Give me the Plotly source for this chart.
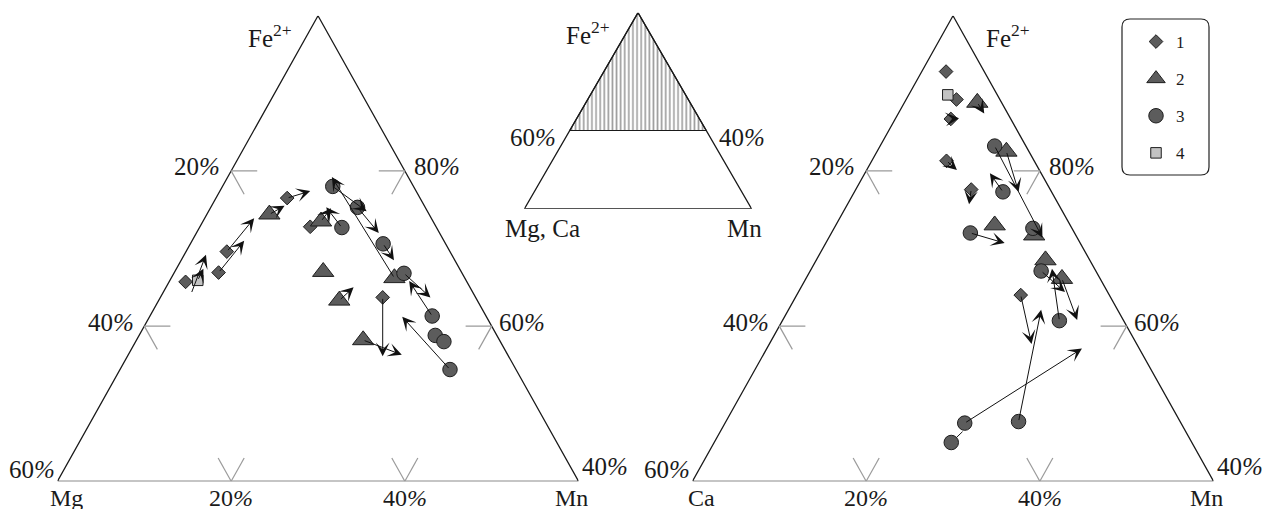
import numpy as np
import plotly.graph_objects as go

W, H = 1267, 512

# ---------------- data (atomic %, Fe2+ and Mn; third component = 100 - Fe - Mn) -------------
# Left diagram: Fe2+ - Mg - Mn
L_FE_1 = [65.7, 66.9, 69.6, 76.5, 72.8, 63.7]
L_MN_1 = [1.9, 5.1, 4.7, 8.2, 12.7, 25.6]
L_FE_2 = [74.4, 73.5, 67.0, 63.3, 58.2, 66.2]
L_MN_2 = [7.2, 13.6, 17.1, 20.8, 26.1, 25.7]
L_FE_3 = [78.0, 75.3, 72.7, 70.6, 66.8, 61.3, 58.8, 58.0, 54.4]
L_MN_3 = [12.7, 16.9, 16.4, 22.2, 26.5, 32.5, 34.1, 35.5, 38.0]
L_FE_4 = [65.9]
L_MN_4 = [3.2]
# arrows (tail -> head)
L_ARR_FE0 = [64.2, 65.9, 66.9, 69.6, 74.4, 76.5, 66.2, 78.0, 75.3, 72.7, 73.5, 70.6, 66.8, 61.3, 63.3, 63.7, 58.2, 54.4]
L_ARR_MN0 = [3.3, 3.2, 5.1, 4.7, 7.2, 8.2, 25.7, 12.7, 16.9, 16.4, 13.6, 22.2, 26.5, 32.5, 20.8, 25.6, 26.1, 38.0]
L_ARR_FE1 = [69.2, 67.4, 71.0, 73.9, 75.5, 77.4, 79.2, 74.8, 72.0, 75.3, 75.2, 68.5, 63.7, 65.8, 65.0, 56.1, 56.3, 61.2]
L_ARR_MN1 = [2.5, 3.1, 6.0, 5.7, 8.4, 10.4, 12.0, 18.2, 21.0, 13.3, 13.9, 24.5, 31.1, 27.6, 21.6, 29.4, 31.5, 29.1]

# Right diagram: Fe2+ - Ca - Mn
R_FE_1 = [92.8, 89.2, 86.7, 81.3, 77.6, 64.0]
R_MN_1 = [2.8, 5.8, 6.4, 8.6, 13.3, 25.8]
R_FE_2 = [88.8, 82.5, 73.0, 71.7, 68.5, 66.1]
R_MN_2 = [8.4, 14.9, 18.3, 23.5, 26.4, 29.5]
R_FE_3 = [83.2, 77.3, 72.0, 72.6, 67.1, 60.7, 47.5, 47.7, 45.0]
R_MN_3 = [13.2, 17.1, 16.0, 22.9, 26.6, 31.9, 27.6, 33.7, 27.3]
R_FE_4 = [89.8]
R_MN_4 = [4.5]
R_ARR_FE0 = [88.8, 86.7, 81.3, 77.6, 83.2, 82.5, 77.3, 72.0, 60.7, 66.1, 67.1, 64.0, 47.7, 47.5]
R_ARR_MN0 = [8.4, 6.4, 8.6, 13.3, 13.2, 14.9, 17.1, 16.0, 31.9, 29.5, 26.6, 25.8, 33.7, 27.6]
R_ARR_FE1 = [87.4, 86.8, 80.1, 75.7, 71.4, 77.3, 79.7, 70.7, 67.4, 60.8, 64.4, 57.7, 62.1, 57.1]
R_ARR_MN1 = [9.9, 7.3, 10.4, 14.0, 24.6, 18.9, 14.4, 20.6, 27.7, 33.9, 30.7, 30.2, 29.1, 36.3]
# plain connector (no head)
R_LINK_FE = [45.0, 46.4]
R_LINK_MN = [27.3, 27.9]

# axis scale ticks
SIDE_TICKS = [20, 40]          # Mg (Ca) on left side, Mn on the base
FE_TICKS = [80, 60]            # Fe on right side
FE_MIN = 40

SERIES_NAMES = ["1", "2", "3", "4"]
SYMBOLS = ["diamond", "triangle-up", "circle", "square"]
SIZES = [10.5, 18.5, 14.5, 10.5]
FILLS = ["#5c5c5c", "#5c5c5c", "#5c5c5c", "#c3c3c3"]

FONT = "Liberation Serif, Times New Roman, serif"
TXT = "#1a1a1a"


def txy(fe, mn, fe_min=FE_MIN):
    fe = np.asarray(fe, float)
    mn = np.asarray(mn, float)
    y = fe - fe_min
    return mn + y / 2.0, y


fig = go.Figure()
annotations = []


def dom_x(p0, p1):
    return [p0 / W, p1 / W]


def dom_y(p_bottom, p_top):
    return [1 - p_bottom / H, 1 - p_top / H]


def add_triangle(ax_id, fes, mns, arr, link, side_name, fe_label_right, legend):
    xr = "x" if ax_id == 1 else f"x{ax_id}"
    yr = "y" if ax_id == 1 else f"y{ax_id}"
    # outline
    cx, cy = txy([40, 40, 100, 40], [0, 60, 0, 0])
    fig.add_trace(go.Scatter(x=cx, y=cy, mode="lines", line=dict(color="#1a1a1a", width=1.3),
                             xaxis=xr, yaxis=yr, showlegend=False, hoverinfo="skip", cliponaxis=False))
    # tick stubs (gray)
    sfe, smn = [], []
    for m in SIDE_TICKS:   # left side (Mn = 0)
        f = 100 - m
        sfe += [f, f, None, f, f - 3, None]
        smn += [0, 3, None, 0, 3, None]
    for m in SIDE_TICKS:   # base (Fe = 40)
        sfe += [40, 43, None, 40, 43, None]
        smn += [m, m, None, m, m - 3, None]
    for f in FE_TICKS:     # right side (Mg = 0)
        sfe += [f, f, None, f, f - 3, None]
        smn += [100 - f, 100 - f - 3, None, 100 - f, 100 - f, None]
    sx, sy = [], []
    for f, m in zip(sfe, smn):
        if f is None:
            sx.append(None); sy.append(None)
        else:
            a, b = txy([f], [m]); sx.append(float(a[0])); sy.append(float(b[0]))
    fig.add_trace(go.Scatter(x=sx, y=sy, mode="lines", line=dict(color="#9a9a9a", width=1.2),
                             xaxis=xr, yaxis=yr, showlegend=False, hoverinfo="skip", cliponaxis=False))
    # connector lines
    if link is not None:
        lx, ly = txy(link[0], link[1])
        fig.add_trace(go.Scatter(x=lx, y=ly, mode="lines", line=dict(color="#1a1a1a", width=1),
                                 xaxis=xr, yaxis=yr, showlegend=False, hoverinfo="skip", cliponaxis=False))
    # points
    for i in range(4):
        px, py = txy(fes[i], mns[i])
        third = 100 - np.asarray(fes[i]) - np.asarray(mns[i])
        fig.add_trace(go.Scatter(
            x=px, y=py, mode="markers", name=SERIES_NAMES[i], legendgroup=SERIES_NAMES[i],
            showlegend=legend, xaxis=xr, yaxis=yr, cliponaxis=False,
            marker=dict(symbol=SYMBOLS[i], size=SIZES[i], color=FILLS[i],
                        line=dict(color="#1e1e1e", width=1)),
            customdata=np.c_[fes[i], mns[i], third],
            hovertemplate="Fe %{customdata[0]}%<br>Mn %{customdata[1]}%<br>" + side_name + " %{customdata[2]:.1f}%<extra>" + SERIES_NAMES[i] + "</extra>"))
    # arrows
    fe0, mn0, fe1, mn1 = arr
    tx, ty = txy(fe0, mn0)
    hx, hy = txy(fe1, mn1)
    for a, b, c, d in zip(tx, ty, hx, hy):
        annotations.append(dict(x=float(c), y=float(d), ax=float(a), ay=float(b), xref=xr, yref=yr,
                                axref=xr, ayref=yr, text="", showarrow=True, arrowhead=3,
                                arrowsize=2.3, arrowwidth=1, arrowcolor="#111111", standoff=0))

    def lab(text, fe, mn, xanchor, yanchor, xs, ys, height=None, size=25):
        X, Y = txy([fe], [mn])
        d = dict(x=float(X[0]), y=float(Y[0]), xref=xr, yref=yr, text=text, showarrow=False,
                 xanchor=xanchor, yanchor=yanchor, xshift=xs, yshift=ys,
                 font=dict(family=FONT, size=size, color=TXT))
        if height:
            d["height"] = height
        annotations.append(d)
    pct = "<i>%</i>"
    # left side labels (Mg / Ca share)
    lab("20" + pct, 80, 0, "right", "middle", -9, 4)
    lab("40" + pct, 60, 0, "right", "middle", -8, 4)
    lab("60" + pct, 40, 0, "right", "middle", -1, 12)
    # base labels (Mn share)
    lab("20" + pct, 40, 20, "center", "top", 0, -4, 22, 24)
    lab("40" + pct, 40, 40, "center", "top", 0, -4, 22, 24)
    # right side labels (Fe share)
    lab("80" + pct, 80, 20, "left", "middle", 7, 4)
    lab("60" + pct, 60, 40, "left", "middle", 5, 4)
    lab("40" + pct, 40, 60, "left", "middle", 1, 15)
    # corner names
    lab(side_name, 40, 0, "center", "top", 9, -3, 23, 24)
    lab("Mn", 40, 60, "center", "top", -7, -3, 23, 24)
    if fe_label_right:
        lab("Fe<sup>2+</sup>", 100, 0, "left", "middle", 31, -20)
    else:
        lab("Fe<sup>2+</sup>", 100, 0, "right", "middle", -24, -20)


add_triangle(1, [L_FE_1, L_FE_2, L_FE_3, L_FE_4], [L_MN_1, L_MN_2, L_MN_3, L_MN_4],
             (L_ARR_FE0, L_ARR_MN0, L_ARR_FE1, L_ARR_MN1), None, "Mg", False, True)
add_triangle(2, [R_FE_1, R_FE_2, R_FE_3, R_FE_4], [R_MN_1, R_MN_2, R_MN_3, R_MN_4],
             (R_ARR_FE0, R_ARR_MN0, R_ARR_FE1, R_ARR_MN1), (R_LINK_FE, R_LINK_MN), "Ca", True, False)

# ---------------- inset: full triangle, hatched field Fe2+ >= 40 % ----------------
INSET_FE_MIN = 0
hx_, hy_ = txy([100, 40, 40, 100], [0, 0, 60, 0], INSET_FE_MIN)
fig.add_trace(go.Scatter(x=hx_, y=hy_, mode="lines", fill="toself", fillcolor="rgba(0,0,0,0)",
                         fillpattern=dict(shape="|", size=4.1, solidity=0.4, fgcolor="#3c3c3c", bgcolor="white"),
                         line=dict(color="#1a1a1a", width=1.2), xaxis="x3", yaxis="y3",
                         showlegend=False, hoverinfo="skip", cliponaxis=False))
ox, oy = txy([100, 0, 0, 100], [0, 0, 100, 0], INSET_FE_MIN)
fig.add_trace(go.Scatter(x=ox, y=oy, mode="lines", line=dict(color="#1a1a1a", width=1.3),
                         xaxis="x3", yaxis="y3", showlegend=False, hoverinfo="skip", cliponaxis=False))
bx, by = txy([0, 0], [0, 100], INSET_FE_MIN)
fig.add_trace(go.Scatter(x=bx, y=by, mode="lines", line=dict(color="#555555", width=2),
                         xaxis="x3", yaxis="y3", showlegend=False, hoverinfo="skip", cliponaxis=False))


def ilab(text, fe, mn, xanchor, yanchor, xs, ys):
    X, Y = txy([fe], [mn], INSET_FE_MIN)
    annotations.append(dict(x=float(X[0]), y=float(Y[0]), xref="x3", yref="y3", text=text, showarrow=False,
                            xanchor=xanchor, yanchor=yanchor, xshift=xs, yshift=ys,
                            font=dict(family=FONT, size=25, color=TXT)))


ilab("Fe<sup>2+</sup>", 100, 0, "right", "middle", -26, -20)
ilab("60<i>%</i>", 40, 0, "right", "middle", -12, -7)
ilab("40<i>%</i>", 40, 60, "left", "middle", 11, -7)
ilab("Mg, Ca", 0, 0, "center", "top", 18, -4)
ilab("Mn", 0, 100, "center", "top", -7, -4)

ax_common = dict(visible=False, fixedrange=True)
fig.update_layout(
    width=W, height=H, autosize=False,
    margin=dict(l=0, r=0, t=0, b=0),
    paper_bgcolor="white", plot_bgcolor="white",
    xaxis=dict(domain=dom_x(57.5, 578.5), range=[0, 60], anchor="y", **ax_common),
    yaxis=dict(domain=dom_y(481.3, 15.7), range=[0, 60], anchor="x", **ax_common),
    xaxis2=dict(domain=dom_x(692.5, 1213.5), range=[0, 60], anchor="y2", **ax_common),
    yaxis2=dict(domain=dom_y(481.3, 15.7), range=[0, 60], anchor="x2", **ax_common),
    xaxis3=dict(domain=dom_x(524.3, 751.7), range=[0, 100], anchor="y3", **ax_common),
    yaxis3=dict(domain=dom_y(209, 12.7), range=[0, 100], anchor="x3", **ax_common),
    annotations=annotations,
    showlegend=True,
    legend=dict(x=1136 / W, y=1 - 24 / H, xanchor="left", yanchor="top",
                bgcolor="rgba(0,0,0,0)", borderwidth=0, tracegroupgap=12,
                font=dict(family=FONT, size=17, color=TXT), itemsizing="trace"),
)

# rounded legend frame
x0, x1 = 1122 / W, 1209 / W
y0, y1 = 1 - 175 / H, 1 - 19 / H
rx, ry = 8 / W, 8 / H
path = (f"M {x0+rx},{y1} L {x1-rx},{y1} Q {x1},{y1} {x1},{y1-ry} L {x1},{y0+ry} Q {x1},{y0} {x1-rx},{y0} "
        f"L {x0+rx},{y0} Q {x0},{y0} {x0},{y0+ry} L {x0},{y1-ry} Q {x0},{y1} {x0+rx},{y1} Z")
fig.add_shape(type="path", path=path, xref="paper", yref="paper", line=dict(color="#222222", width=1.2))

fig.write_html("out.html", config={"displayModeBar": False},
               post_script="document.body.style.margin='0';")
